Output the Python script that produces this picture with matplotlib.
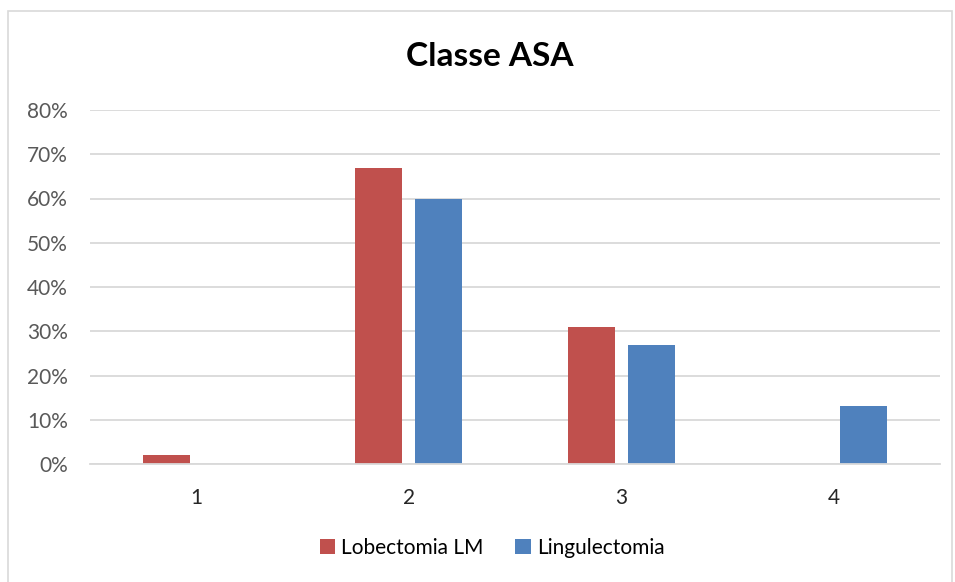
import matplotlib
matplotlib.use("Agg")
import matplotlib.pyplot as plt
from matplotlib.patches import Rectangle
from matplotlib.ticker import PercentFormatter
import numpy as np

categories = ["1", "2", "3", "4"]
lobectomia = [2, 67, 31, 0]
lingulectomia = [0, 60, 27, 13]
series_names = ["Lobectomia LM", "Lingulectomia"]
colors = ["#C0504D", "#4F81BD"]

plt.rcParams['font.family'] = ['Lato', 'DejaVu Sans']

fig = plt.figure(figsize=(9.55, 5.82), dpi=100)
# outer chart frame
fig.patches.append(Rectangle((8 / 955, -0.01), 944 / 955, 1 - 11 / 582 + 0.01,
                             transform=fig.transFigure, fill=False,
                             edgecolor="#D9D9D9", linewidth=1.2))

ax = fig.add_axes([90 / 955, 1 - 464 / 582, 850 / 955, 354 / 582])

x = np.arange(len(categories))
w = 0.221
ax.bar(x - 0.142, lobectomia, w, color=colors[0], label=series_names[0])
ax.bar(x + 0.142, lingulectomia, w, color=colors[1], label=series_names[1])

ax.set_xlim(-0.5, 3.5)
ax.set_ylim(0, 80)
ax.set_yticks(range(0, 81, 10))
ax.yaxis.set_major_formatter(PercentFormatter(decimals=0))
ax.set_xticks(x)
ax.set_xticklabels(categories)
ax.grid(axis="y", color="#D9D9D9", linewidth=1.3)
ax.set_axisbelow(True)
for s in ["top", "right", "left"]:
    ax.spines[s].set_visible(False)
ax.spines["bottom"].set_color("#D9D9D9")
ax.spines["bottom"].set_linewidth(1.3)
ax.tick_params(axis="y", length=0, pad=16, labelsize=15, labelcolor="#595959")
ax.tick_params(axis="x", length=0, pad=17, labelsize=15, labelcolor="#262626")

fig.text(490 / 955, 1 - 56 / 582, "Classe ASA", ha="center", va="center",
         fontsize=24, fontweight="bold", color="black")

fig.legend(loc="center", bbox_to_anchor=(492 / 955, 1 - 548 / 582), ncol=2,
           frameon=False, fontsize=15, handlelength=0.75, handleheight=0.75,
           handletextpad=0.3, columnspacing=1.5)

fig.savefig("out.png", dpi=100)
